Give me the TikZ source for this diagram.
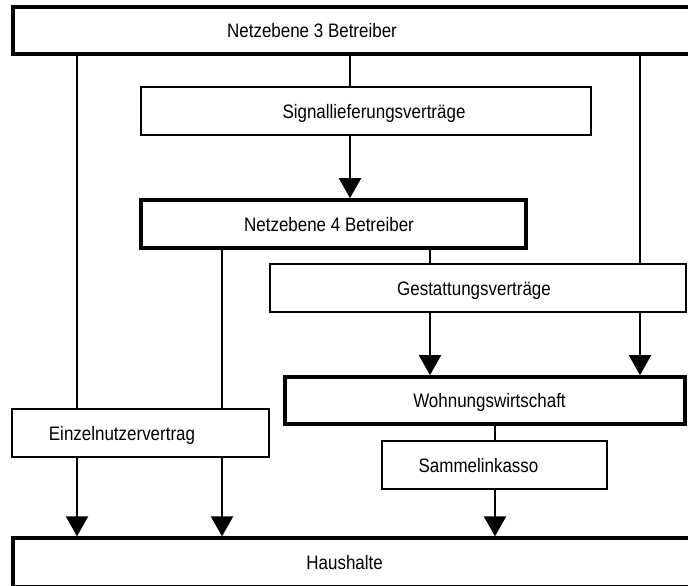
\documentclass[tikz,border=0pt]{standalone}
\usepackage{fontspec}
\setmainfont{Liberation Sans}[FakeStretch=0.87]
\usetikzlibrary{arrows.meta}
\tikzset{
  lbl/.style={font=\fontsize{19.5}{22}\selectfont, text height=14pt, text depth=0pt, inner sep=0pt},
  thinbox/.style={draw, line width=1.5pt, fill=white, rectangle, inner sep=0pt},
  thickbox/.style={draw, line width=3.8pt, fill=white, rectangle, inner sep=0pt},
  conn/.style={line width=2pt},
  arr/.style={line width=2pt, -{Triangle[length=20pt,width=22pt]}}
}
\begin{document}
\begin{tikzpicture}[x=1pt,y=-1pt]
\useasboundingbox (0,0) rectangle (688,586);
\clip (0,0) rectangle (688,586);
\fill[white] (0,0) rectangle (688,586);
% x positions of the vertical connectors
\coordinate (xa) at (77,0);
\coordinate (xb) at (222,0);
\coordinate (xc) at (350,0);
\coordinate (xd) at (430,0);
\coordinate (xe) at (495,0);
\coordinate (xf) at (640,0);
% boxes
\node[thickbox, minimum width=687pt, minimum height=47pt,
  label={[lbl,xshift=-44.5pt]center:Netzebene 3 Betreiber}] (n3) at (356.5,30.5) {};
\node[thinbox, minimum width=450pt, minimum height=48pt,
  label={[lbl,xshift=8pt]center:Signallieferungsverträge}] (sig) at (366,111) {};
\node[thickbox, minimum width=384.7pt, minimum height=48.3pt,
  label={[lbl,xshift=-4.6pt]center:Netzebene 4 Betreiber}] (n4) at (333.6,224.2) {};
\node[thinbox, minimum width=416pt, minimum height=48pt,
  label={[lbl,xshift=-4pt]center:Gestattungsverträge}] (gest) at (478,288) {};
\node[thickbox, minimum width=399.4pt, minimum height=47.3pt,
  label={[lbl,xshift=4.5pt]center:Wohnungswirtschaft}] (wohn) at (485,400.7) {};
\node[thinbox, minimum width=257pt, minimum height=48pt,
  label={[lbl,xshift=-18.5pt]center:Einzelnutzervertrag}] (einz) at (140.5,433) {};
\node[thinbox, minimum width=225pt, minimum height=48pt,
  label={[lbl,xshift=-16pt]center:Sammelinkasso}] (samm) at (494.5,465) {};
\node[thickbox, minimum width=686.7pt, minimum height=48.2pt,
  label={[lbl,xshift=-12pt]center:Haushalte}] (haus) at (356.6,562.4) {};
% connectors
\draw[conn] (n3.south -| xa) -- (einz.north -| xa);
\draw[arr]  (einz.south -| xa) -- (haus.north -| xa);
\draw[conn] (n4.south -| xb) -- (einz.north -| xb);
\draw[arr]  (einz.south -| xb) -- (haus.north -| xb);
\draw[conn] (n3.south -| xc) -- (sig.north -| xc);
\draw[arr]  (sig.south -| xc) -- (n4.north -| xc);
\draw[conn] (n4.south -| xd) -- (gest.north -| xd);
\draw[arr]  (gest.south -| xd) -- (wohn.north -| xd);
\draw[conn] (n3.south -| xf) -- (gest.north -| xf);
\draw[arr]  (gest.south -| xf) -- (wohn.north -| xf);
\draw[conn] (wohn.south -| xe) -- (samm.north -| xe);
\draw[arr]  (samm.south -| xe) -- (haus.north -| xe);
\end{tikzpicture}
\end{document}
